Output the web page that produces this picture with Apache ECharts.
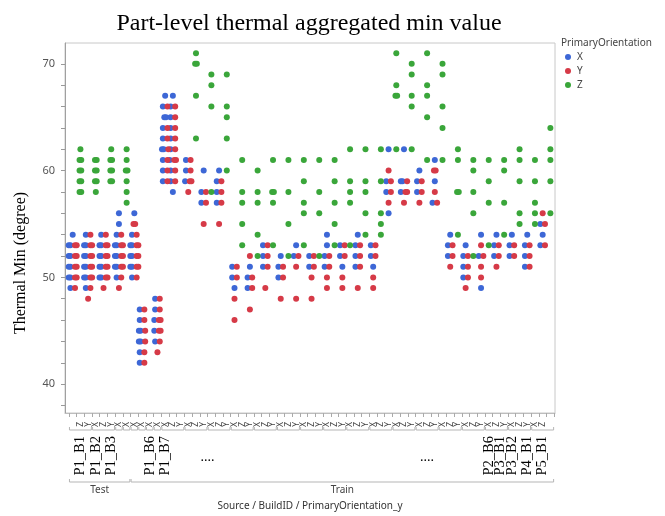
<!DOCTYPE html>
<html><head><meta charset="utf-8">
<script src="https://cdn.jsdelivr.net/npm/echarts@6/dist/echarts.min.js"></script>
<style>html,body{margin:0;padding:0;background:#fff}#c{width:665px;height:516px}</style>
</head><body><div id="c"></div>
<script>
// ---- categories (bottom-level axis letters, one per slot) ----
const xLetters = ['X','Z','Y','X','Z','Y','X','X','X','X','X','X','X','Z','Y',
  'X','Z','Y','X','Z','Y','X','Z','Y','X','Z','Y','X','Z','Y','X','Z','Y','X','Z','Y','X','Z','Y',
  'X','Z','Y','X','Z','Y','X','Z','Y','X','Z','Y','X','Z','Y','X','Z','Y','X','Z','Y','X','Z','Y'];
const sourceNames = ['Test', 'Train'];
const sourceSlotCounts = [8, 55];
const buildTickValues = [1, 3, 5, 10, 12, 54, 55.5, 57, 59, 61];
const buildTickLabels = ['P1_B1','P1_B2','P1_B3','P1_B6','P1_B7','P2_B6','P3_B1','P3_B2','P4_B1','P5_B1'];
const ellipsisTickValues = [17.5, 46];
const yLabelValues = [40, 50, 60, 70];
const yTickValues = [38, 40, 42, 44, 46, 48, 50, 52, 54, 56, 58, 60, 62, 64, 66, 68, 70];
const seriesNames = ['X', 'Y', 'Z'];

// ---- parts: [slot, [thermal min values]] ----
const pointsX = [
  [0,[54,53,53,52,52,51,51,50,50,49]],
  [2,[54,53,53,52,52,51,51,50,50,49]],
  [4,[54,53,53,52,52,51,51,50,50]],
  [6,[56,55,54,53,53,52,52,51,51,50]],
  [8,[56,54,53,53,52,52,51,51,50]],
  [9,[47,46,45,45,44,44,43,42]],
  [11,[48,47,46,45,44]],
  [12,[67,66,65,65,64,63,62,62,61,60,59]],
  [13,[67,66,65,64,63,62,61,60,59,58]],
  [15,[61,60,59]],
  [17,[60,58,57]],
  [19,[60,59,58,57]],
  [21,[51,50,49]],
  [23,[51,50,49]],
  [25,[53,52,51]],
  [27,[52,51,50]],
  [29,[53,52]],
  [31,[52,51]],
  [33,[54,53,52,51]],
  [35,[53,52,51]],
  [37,[54,53,52,51]],
  [39,[53,52,51]],
  [41,[62,59,58,56]],
  [43,[62,59,59,58]],
  [45,[60,59,58]],
  [47,[61,59,57]],
  [49,[54,53,52]],
  [51,[53,52,51,50]],
  [53,[54,52,49]],
  [55,[54,53,52]],
  [57,[54,53,52]],
  [59,[54,53,52,51]],
  [61,[55,54,53]]
];
const pointsY = [
  [0,[53,53,52,52,51,51,50,50,49]],
  [2,[54,53,53,52,52,51,51,50,50,49,48]],
  [4,[54,53,53,52,52,51,51,50,50,49]],
  [6,[54,53,53,52,52,51,51,50,49]],
  [8,[55,55,54,53,53,52,52,51,51,50]],
  [9,[47,46,45,44,43,42]],
  [11,[48,47,46,46,45,45,44,43]],
  [12,[66,64,63,62,61,60,59]],
  [13,[66,65,64,63,62,61,61,60,59]],
  [15,[61,60,59,59,58]],
  [17,[58,57,55]],
  [19,[59,58,57,55]],
  [21,[51,50,48,46]],
  [23,[52,50,49,47]],
  [25,[53,52,51,49]],
  [27,[51,50,48]],
  [29,[52,51,48]],
  [31,[52,51,50,48]],
  [33,[52,51,50,49]],
  [35,[53,52,50,49]],
  [37,[53,52,51,49]],
  [39,[53,52,50,49]],
  [41,[60,59,58,57]],
  [43,[59,58,58,57]],
  [45,[59,58,57]],
  [47,[60,60,58,57]],
  [49,[53,52,51]],
  [51,[52,51,50,49]],
  [53,[53,52,51,50]],
  [55,[53,52,51]],
  [57,[53,52]],
  [59,[53,52,51]],
  [61,[56,55,53]]
];
const pointsZ = [
  [1,[62,61,61,60,60,59,59,58,58]],
  [3,[61,61,60,60,59,59,58]],
  [5,[62,61,61,60,60,59,59]],
  [7,[62,61,60,60,59,58,57]],
  [16,[71,70,70,67,63]],
  [18,[69,68,66,58]],
  [20,[69,66,65,63,60]],
  [22,[61,58,57,55,53]],
  [24,[60,58,57,54,52]],
  [26,[61,58,58,57,53]],
  [28,[61,58,55,52]],
  [30,[61,59,57,56,53]],
  [32,[61,58,56,52]],
  [34,[61,59,57,55,53]],
  [36,[62,59,58,57,53]],
  [38,[62,59,58,56,54]],
  [40,[62,59,56,55,54]],
  [42,[71,68,67,67,62]],
  [44,[70,69,67,66,62]],
  [46,[71,68,67,65,61]],
  [48,[70,69,66,64,61]],
  [50,[62,61,58,58,54]],
  [52,[61,60,58,56,52]],
  [54,[61,59,57,53]],
  [56,[61,60,57,54]],
  [58,[62,61,59,56,55]],
  [60,[61,59,57,56,55]],
  [62,[64,62,61,59,56]]
];

// ---- layout: spread parts sharing a slot and value side by side (like JMP jitter) ----
const groups = new Map();
[pointsX, pointsY, pointsZ].forEach((cols, ci) => cols.forEach(([slot, vals]) => vals.forEach(v => {
  const key = slot + '|' + v;
  if (!groups.has(key)) groups.set(key, []);
  groups.get(key).push(ci);
})));
const seriesData = [[], [], []];
groups.forEach((list, key) => {
  const [slot, v] = key.split('|').map(Number);
  list.sort((a, b) => a - b);
  const pos = [0];
  for (let i = 1; i < list.length; i++) pos.push(pos[i - 1] + (list[i] === list[i - 1] ? 0.22 : 0.6));
  const mid = pos[pos.length - 1] / 2;
  list.forEach((ci, i) => seriesData[ci].push([slot + pos[i] - mid, v]));
});

// brackets: build groups (new group at each 'X') and source groups
const brackets = [];
xLetters.forEach((l, i) => {
  if (l === 'X' || i === 0) brackets.push([i, i, 0]); else brackets[brackets.length - 1][1] = i;
});
const sourceCenters = [];
let s0 = 0;
sourceSlotCounts.forEach(n => { brackets.push([s0, s0 + n - 1, 1]); sourceCenters.push(s0 + (n - 1) / 2); s0 += n; });

const X_MIN = -1, X_MAX = 62.6, Y_MIN = 37.3, Y_MAX = 71.95;
const slotInts = xLetters.map((_, i) => i);
const slotEdges = [-0.5].concat(xLetters.map((_, i) => i + 0.5));
const SANS = '"Noto Sans", "DejaVu Sans", sans-serif';
const SERIF = '"Liberation Serif", "DejaVu Serif", serif';
const colors = ['#3d67d6', '#d63a47', '#3aa63a'];

function findLabel(values, labels, v) {
  const i = values.findIndex(t => Math.abs(t - v) < 1e-6);
  return i < 0 ? '' : labels[i];
}
function labelAxis(axisLabel) {
  return {
    type: 'value', gridIndex: 0, position: 'bottom', offset: 0, min: X_MIN, max: X_MAX,
    axisLine: { show: false, onZero: false }, axisTick: { show: false }, splitLine: { show: false },
    axisLabel: Object.assign({ showMinLabel: true, showMaxLabel: true }, axisLabel)
  };
}

const chart = echarts.init(document.getElementById('c'), null, { renderer: 'canvas' });
chart.setOption({
  animation: false,
  color: colors,
  title: [
    { text: 'Part-level thermal aggregated min value', left: 309, top: 12, textAlign: 'center', padding: 0,
      textStyle: { fontFamily: SERIF, fontSize: 24, fontWeight: 'normal', color: '#000' } },
    { text: 'PrimaryOrientation', left: 561, top: 38, padding: 0,
      textStyle: { fontFamily: SANS, fontSize: 10, fontWeight: 'normal', color: '#444' } }
  ],
  legend: {
    data: seriesNames, orient: 'vertical', left: 565, top: 52, padding: 0,
    itemWidth: 6, itemHeight: 6, itemGap: 4, icon: 'circle',
    textStyle: { fontFamily: SANS, fontSize: 10, color: '#444', padding: [0, 0, 0, 1] }
  },
  grid: { left: 65, top: 43, width: 490, height: 375, show: true, borderColor: '#c8c8c8', borderWidth: 1 },
  xAxis: [
    {
      type: 'value', gridIndex: 0, position: 'bottom', min: X_MIN, max: X_MAX,
      axisLine: { show: true, onZero: false, lineStyle: { color: '#bdbdbd' } },
      axisTick: { show: true, customValues: slotEdges, length: 4, lineStyle: { color: '#aaa' } },
      axisLabel: { customValues: slotInts, rotate: 90, fontSize: 8.5, margin: 9, color: '#444', fontFamily: SANS,
        formatter: v => xLetters[Math.round(v)] || '' },
      splitLine: { show: false },
      name: 'Source / BuildID / PrimaryOrientation_y', nameLocation: 'middle', nameGap: 88,
      nameTextStyle: { fontFamily: SANS, fontSize: 10, color: '#333' }
    },
    labelAxis({ customValues: buildTickValues, rotate: 90, margin: 23, fontFamily: SERIF, fontSize: 14.5, color: '#000',
      formatter: v => findLabel(buildTickValues, buildTickLabels, v) }),
    labelAxis({ customValues: ellipsisTickValues, margin: 37, fontFamily: SERIF, fontSize: 14, color: '#000',
      formatter: () => '....' }),
    labelAxis({ customValues: sourceCenters, margin: 72, fontFamily: SANS, fontSize: 10, color: '#444',
      formatter: v => findLabel(sourceCenters, sourceNames, v) })
  ],
  yAxis: {
    type: 'value', min: Y_MIN, max: Y_MAX,
    axisLine: { show: true, onZero: false, lineStyle: { color: '#a0a0a0' } },
    axisTick: { show: true, customValues: yTickValues, length: 4, lineStyle: { color: '#999' } },
    axisLabel: { customValues: yLabelValues, fontSize: 11, color: '#555', margin: 10, fontFamily: SANS },
    splitLine: { show: false },
    name: 'Thermal Min (degree)', nameLocation: 'middle', nameGap: 36,
    nameTextStyle: { fontFamily: SERIF, fontSize: 16, color: '#000', padding: [0, 70, 0, 0] }
  },
  series: seriesNames.map((n, i) => ({
    name: n, type: 'scatter', xAxisIndex: 0, yAxisIndex: 0,
    symbol: 'circle', symbolSize: 6, data: seriesData[i],
    itemStyle: { color: colors[i], opacity: 1 }
  })).concat([{
    type: 'custom', xAxisIndex: 0, yAxisIndex: 0, silent: true, clip: false,
    dimensions: ['a', 'b', 'lvl'], encode: { x: [0, 1], y: 2 },
    data: brackets,
    renderItem: (params, api) => {
      const a = api.value(0), b = api.value(1), lvl = api.value(2);
      const base = api.coord([a, Y_MIN])[1];
      const x0 = api.coord([a - 0.42, Y_MIN])[0], x1 = api.coord([b + 0.42, Y_MIN])[0];
      const y = base + (lvl === 0 ? 17 : 69);
      return { type: 'polyline', silent: true,
        shape: { points: [[x0, y - 3], [x0, y], [x1, y], [x1, y - 3]] },
        style: { stroke: '#b5b5b5', fill: null, lineWidth: 1 } };
    }
  }])
});
</script>
</body></html>
